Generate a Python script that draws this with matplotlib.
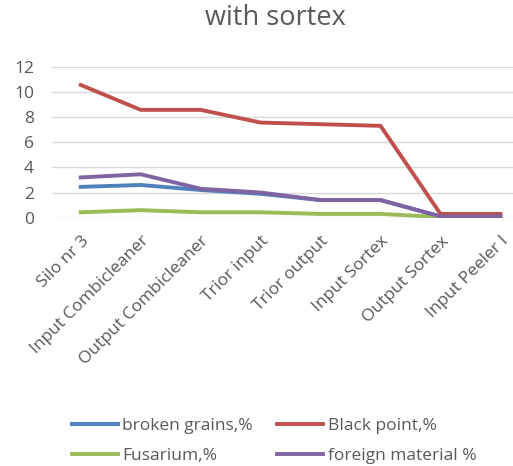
import matplotlib
matplotlib.use('agg')
import matplotlib.pyplot as plt

stages = ["Silo nr 3", "Input Combicleaner", "Output Combicleaner", "Trior input",
          "Trior output", "Input Sortex", "Output Sortex", "Input Peeler I"]
broken = [2.45, 2.6, 2.2, 1.9, 1.4, 1.4, 0.1, 0.1]
black_point = [10.55, 8.57, 8.57, 7.56, 7.43, 7.3, 0.3, 0.3]
fusarium = [0.43, 0.6, 0.43, 0.43, 0.3, 0.3, 0.05, 0.05]
foreign = [3.2, 3.45, 2.3, 2.0, 1.4, 1.4, 0.1, 0.1]

plt.rcParams['font.family'] = ['Open Sans', 'DejaVu Sans']
grey = '#595959'

fig = plt.figure(figsize=(5.13, 4.66), dpi=100)
ax = fig.add_axes([52/513, 1-217.7/466, 1-52/513, (217.7-66.7)/466])

x = range(len(stages))
l1, = ax.plot(x, broken, color='#4F81BD', lw=2.8, label='broken grains,%')
l2, = ax.plot(x, black_point, color='#C0504D', lw=2.8, label='Black point,%')
l3, = ax.plot(x, fusarium, color='#9BBB59', lw=2.8, label='Fusarium,%')
l4, = ax.plot(x, foreign, color='#8064A2', lw=2.8, label='foreign material %')

ax.set_ylim(0, 12)
ax.set_yticks(range(0, 13, 2))
ax.set_xlim(-0.48, 7.21)
ax.set_xticks(list(x))
ax.set_xticklabels(stages, rotation=45, ha='right', rotation_mode='anchor')
ax.tick_params(length=0, colors=grey, labelsize=12.5)
ax.tick_params(axis='x', pad=11)
ax.tick_params(axis='y', pad=13)
ax.grid(axis='y', color='#D9D9D9', lw=1)
ax.set_axisbelow(True)
for s in ax.spines.values():
    s.set_visible(False)

fig.text(275/513, 1-18/466, "with sortex", ha='center', va='center', fontsize=19.5, color=grey)

# column-major fill, so order gives rows: broken/black, fusarium/foreign
fig.legend([l1, l3, l2, l4], [l.get_label() for l in (l1, l3, l2, l4)],
           loc='center', bbox_to_anchor=(274/513, 1-441/466), ncol=2, frameon=False,
           fontsize=12.5, labelcolor=grey, handlelength=2.65, handletextpad=0.25,
           columnspacing=1.4, labelspacing=0.75)

plt.savefig('out.png', dpi=100)
